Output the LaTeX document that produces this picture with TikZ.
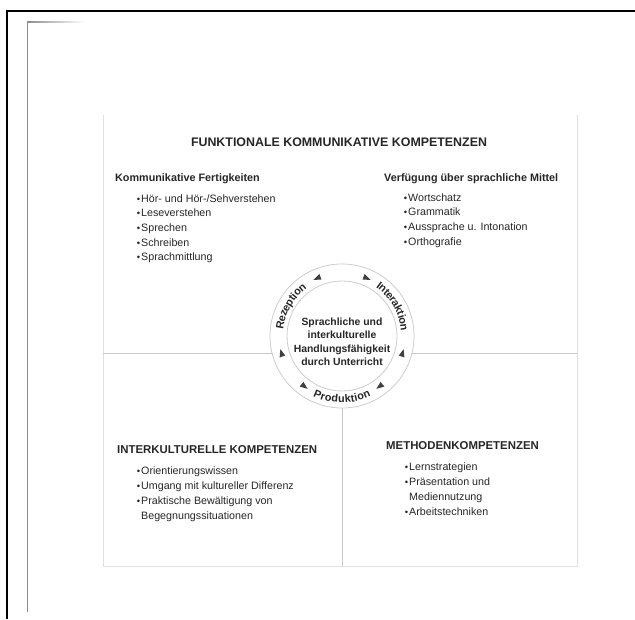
\documentclass[tikz,border=0pt]{standalone}
\usepackage{fontspec}
\setmainfont{Liberation Sans}
\usetikzlibrary{decorations.text,calc}

% small bullet hung to the left of an item
\newcommand\itemdot{\llap{{\fontsize{9.5}{9.5}\selectfont\raisebox{0.3pt}{\textbullet}}\hspace{1.0pt}}}
\newcommand\ringfont{\fontsize{10.8}{13}\selectfont\bfseries}

\begin{document}
\begin{tikzpicture}[x=1pt,y=1pt,
  ink/.style={text=black!85},
  titletext/.style={ink,font=\fontsize{12.4}{14}\selectfont\bfseries,inner sep=0pt,anchor=base},
  heading/.style={ink,font=\fontsize{10.8}{13}\selectfont\bfseries,anchor=base west,inner sep=0pt},
  capsheading/.style={ink,font=\fontsize{11.4}{13}\selectfont\bfseries,anchor=base west,inner sep=0pt},
  entry/.style={ink,font=\fontsize{10.7}{15}\selectfont,anchor=base west,inner sep=0pt,align=left},
  hubtext/.style={ink,font=\fontsize{10.4}{13.5}\selectfont\bfseries,align=center,inner sep=0pt},
  rule/.style={draw=black!22,line width=0.8pt},
  faint/.style={draw=black!12,line width=0.7pt},
  ringline/.style={draw=black!20,line width=0.8pt},
  tipfill/.style={fill=black!75},
  pics/ringtip/.style 2 args={code={
    \fill[tipfill] (#1:63) -- ({#1-(#2)*7}:60) -- ({#1-(#2)*7}:66) -- cycle;}},
]
\useasboundingbox (0,0) rectangle (635,619);

% sheet edges
\draw[black,line width=2.4pt] (7,0) -- (7,608) -- (635,608);
\draw[black!45,line width=0.9pt] (27,7) -- (27,597);
\shade[left color=black!45,right color=white] (27,596.5) rectangle (85,597.5);

% frame of the chart
\coordinate (C) at (342,283);
\coordinate (tl) at (103,504);
\coordinate (bl) at (103,53);
\coordinate (br) at (577,53);
\coordinate (tr) at (577,504);
\draw[faint] (tl) -- (bl) -- (br) -- (tr);

% central ring
\node[circle,ringline,minimum size=144pt,inner sep=0pt] (outer) at (C) {};
\node[circle,ringline,minimum size=110pt,inner sep=0pt] (inner) at (C) {};

% dividers
\coordinate (midL) at (103,266);
\coordinate (midR) at (577,266);
\coordinate (ringL) at (272.0,266);
\coordinate (ringR) at (412.0,266);
\draw[rule] (midL) -- (ringL);
\draw[rule] (ringR) -- (midR);
\draw[rule] (outer.south) -- (342,53);

% title
\node[titletext] (title) at (339,472.6) {FUNKTIONALE KOMMUNIKATIVE KOMPETENZEN};

% upper left
\node[heading] (fert) at (115,437) {Kommunikative Fertigkeiten};
\node[entry] (f1) at (141,416) {\itemdot Hör- und Hör-/Sehverstehen};
\node[entry] (f2) at (141,402) {\itemdot Leseverstehen};
\node[entry] (f3) at (141,387) {\itemdot Sprechen};
\node[entry] (f4) at (141,372) {\itemdot Schreiben};
\node[entry] (f5) at (141,358) {\itemdot Sprachmittlung};

% upper right
\node[heading] (mittel) at (384,437) {Verfügung über sprachliche Mittel};
\node[entry] (m1) at (408,417) {\itemdot Wortschatz};
\node[entry] (m2) at (408,403) {\itemdot Grammatik};
\node[entry] (m3) at (408,388) {\itemdot Aussprache u. Intonation};
\node[entry] (m4) at (408,373) {\itemdot Orthografie};

% lower left
\node[capsheading] (ik) at (117,165) {INTERKULTURELLE KOMPETENZEN};
\node[entry] (k1) at (141,144) {\itemdot Orientierungswissen};
\node[entry] (k2) at (141,129) {\itemdot Umgang mit kultureller Differenz};
\node[entry,anchor=north west] (k3) at (141,122) {\itemdot Praktische Bewältigung von\\Begegnungssituationen};

% lower right
\node[capsheading] (mk) at (386,169) {METHODENKOMPETENZEN};
\node[entry] (p1) at (409,148) {\itemdot Lernstrategien};
\node[entry,anchor=north west] (p2) at (409,141) {\itemdot Präsentation und\\Mediennutzung};
\node[entry] (p3) at (409,103) {\itemdot Arbeitstechniken};

% hub
\node[hubtext] (hub) at (342,277) {Sprachliche und\\interkulturelle\\Handlungsfähigkeit\\durch Unterricht};

% labels around the ring
\path[decorate,decoration={text along path,text={|\ringfont|Rezeption},
  text align=center,text color=black!85,raise=-3.8pt}]
  (C) ++(205:63) arc[start angle=205,end angle=95,radius=63];
\path[decorate,decoration={text along path,text={|\ringfont|Interaktion},
  text align=center,text color=black!85,raise=-3.8pt}]
  (C) ++(85:63) arc[start angle=85,end angle=-25,radius=63];
\path[decorate,decoration={text along path,text={|\ringfont|Produktion},
  text align=center,text color=black!85,raise=-3.8pt}]
  (C) ++(215:63) arc[start angle=215,end angle=325,radius=63];

% arrow tips on the ring
\pic at (C) {ringtip={117}{1}};
\pic at (C) {ringtip={63}{-1}};
\pic at (C) {ringtip={192}{-1}};
\pic at (C) {ringtip={348}{1}};
\pic at (C) {ringtip={237}{1}};
\pic at (C) {ringtip={303}{-1}};
\end{tikzpicture}
\end{document}
